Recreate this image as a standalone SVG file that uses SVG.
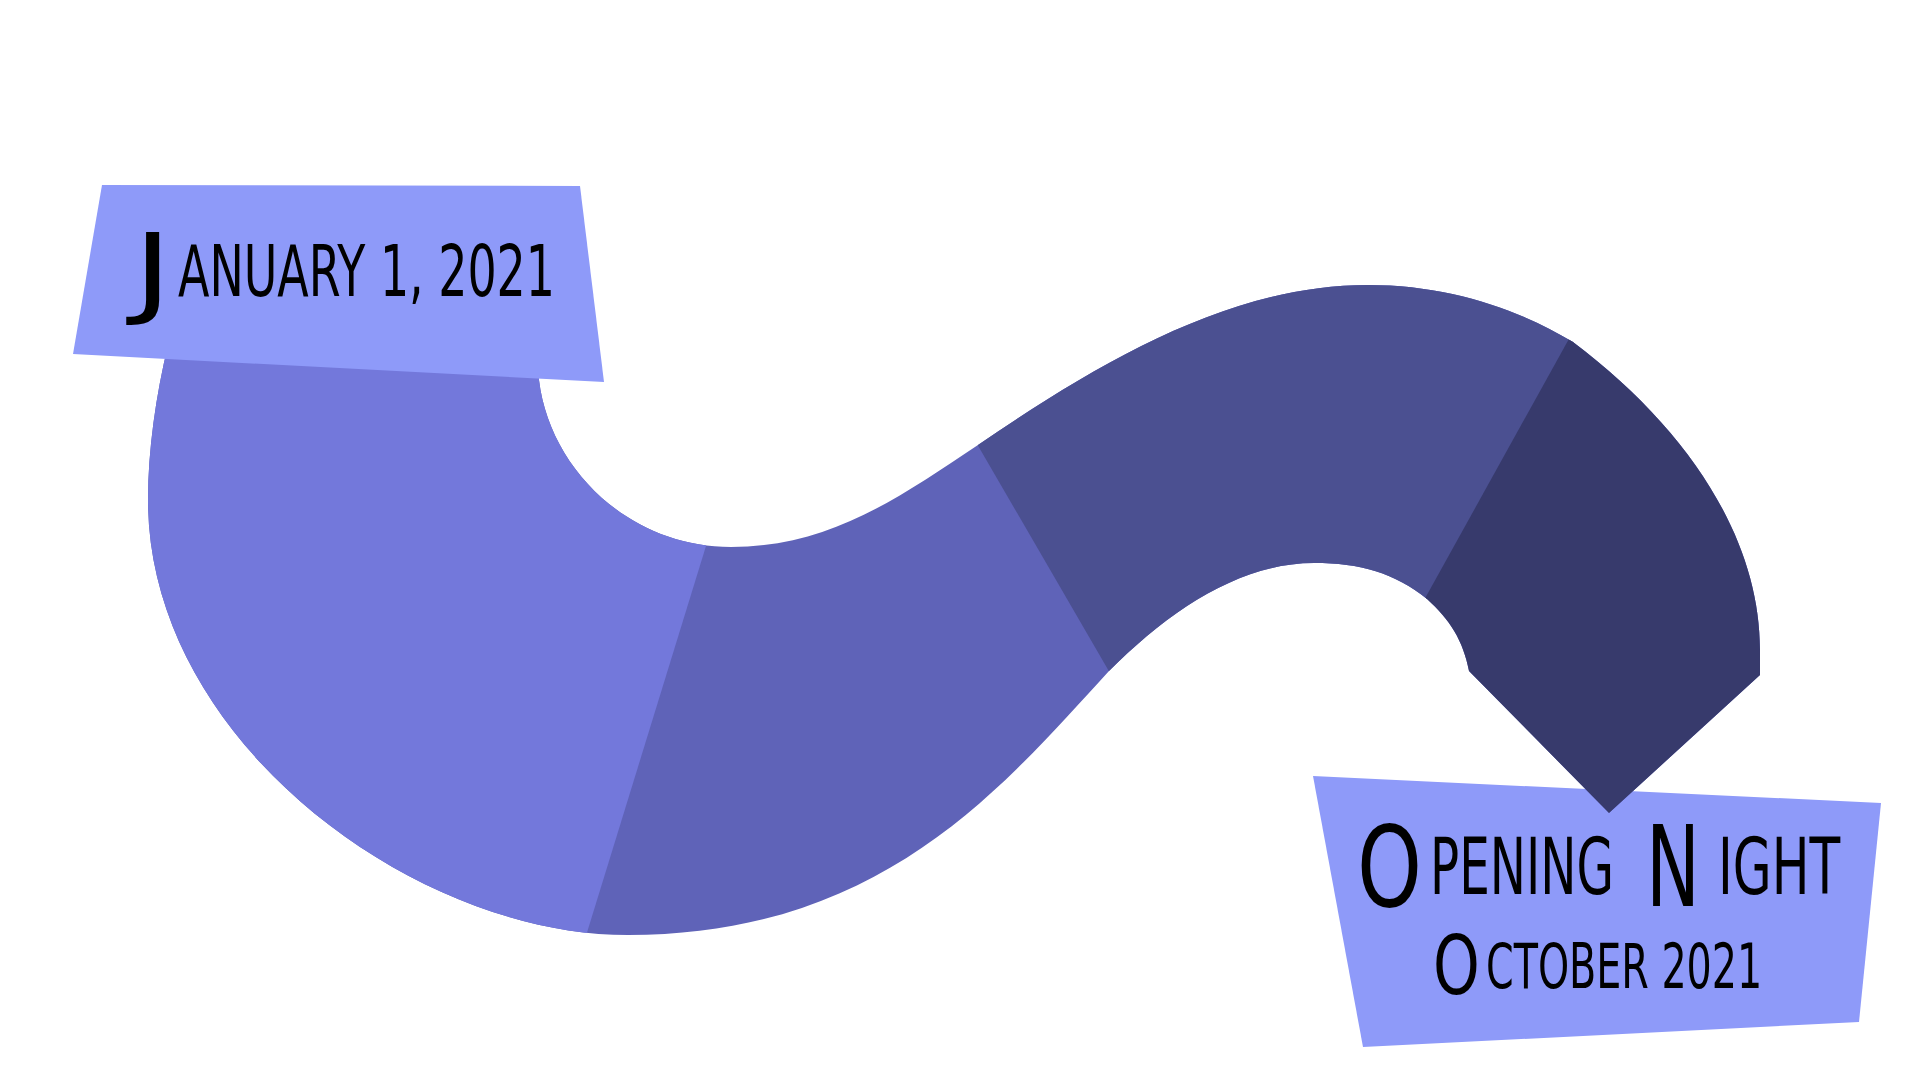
<svg xmlns="http://www.w3.org/2000/svg" width="1920" height="1080" viewBox="0 0 1920 1080">
<style>
.label{fill:#8E9AF9;}
.t{font-family:'Liberation Sans Narrow','DejaVu Sans Condensed','DejaVu Sans',sans-serif;fill:#000;font-stretch:condensed;}
</style>
<defs>
<clipPath id="bandClip">
<path id="bandPath" d="M168,345 C156,395 148,450 148,500 C148,740 413,935 628,935 C880,935 1000,790 1109,671 C1170,610 1240,563 1314,563 C1360,563 1395,573 1427,599 C1450,620 1463,640 1469,671 L1609,813 L1760,675 L1760,650 C1760,540 1690,430 1573,342 C1520,310 1450,285 1368,285 C1230,285 1100,362 978,445 C900,497 830,547 731,547 C630,547 550,470 539,380 L537,345 Z"/>
</clipPath>
</defs>
<rect width="1920" height="1080" fill="#fff"/>
<g id="label-end">
<polygon class="label" points="1313,776 1881,803 1859,1022 1363,1047"/>
</g>
<g id="band" clip-path="url(#bandClip)">
<g id="segment-2"><rect x="0" y="0" width="1920" height="1080" fill="#5F63B8"/></g>
<g id="segment-1"><polygon points="0,0 740,0 735,450 706,546 557,1030 0,1080" fill="#7378DB"/></g>
<g id="segment-3"><polygon points="872,263 1150,742 1367,703 1646,216" fill="#4B5091"/></g>
<g id="segment-4"><polygon points="1646,200 1920,200 1920,1000 1367,703" fill="#373A6C"/></g>
</g>
<g id="label-start">
<polygon class="label" points="102,185 580,186 604,382 73,354"/>
<text class="t" transform="translate(133,305) scale(0.65,1)" font-size="100" textLength="60" lengthAdjust="spacingAndGlyphs">J</text>
<text class="t" transform="translate(178,296) scale(0.65,1)" font-size="71" textLength="580" lengthAdjust="spacingAndGlyphs">ANUARY 1, 2021</text>
</g>
<g id="label-end-text">
<text class="t" transform="translate(1357,906) scale(0.65,1)" font-size="112" textLength="100" lengthAdjust="spacingAndGlyphs">O</text>
<text class="t" transform="translate(1430,894) scale(0.65,1)" font-size="79" textLength="283" lengthAdjust="spacingAndGlyphs">PENING</text>
<text class="t" transform="translate(1646,906) scale(0.65,1)" font-size="112" textLength="83" lengthAdjust="spacingAndGlyphs">N</text>
<text class="t" transform="translate(1718,894) scale(0.65,1)" font-size="79" textLength="188" lengthAdjust="spacingAndGlyphs">IGHT</text>
<text class="t" transform="translate(1433,994) scale(0.65,1)" font-size="82" textLength="72" lengthAdjust="spacingAndGlyphs">O</text>
<text class="t" transform="translate(1486,988) scale(0.65,1)" font-size="62" textLength="425" lengthAdjust="spacingAndGlyphs">CTOBER 2021</text>
</g>
</svg>
